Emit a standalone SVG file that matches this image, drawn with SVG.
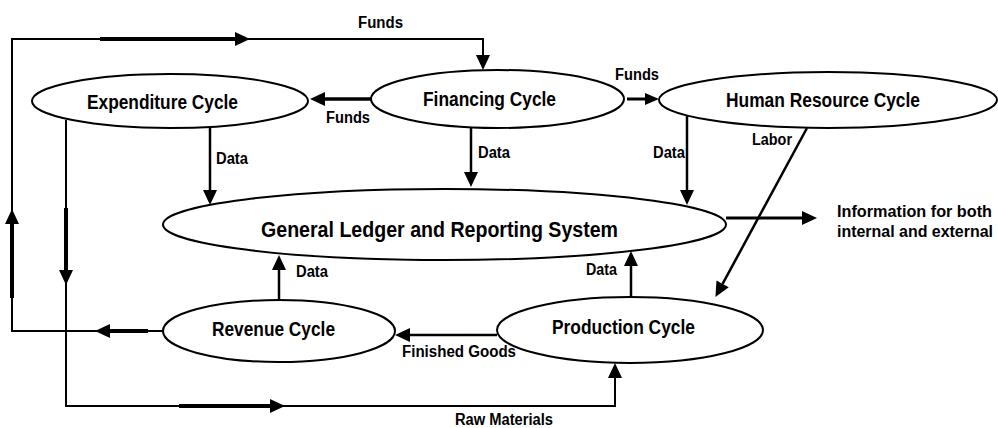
<svg xmlns="http://www.w3.org/2000/svg" width="998" height="428" viewBox="0 0 998 428">
<style>
.node ellipse{fill:#fff;stroke:#000;stroke-width:2}
text{font-family:"Liberation Sans",Arial,sans-serif;font-weight:bold;fill:#000}
.nt{font-size:20px}
.gt{font-size:22px}
.lb{font-size:16px}
.ln{fill:none;stroke:#000;stroke-width:2}
.th{fill:none;stroke:#000;stroke-width:4}
.ar{fill:none;stroke:#000;stroke-width:2.5}
.m{marker-end:url(#ah)}
.ms{marker-end:url(#ahs)}
</style>
<defs>
<marker id="ah" markerUnits="userSpaceOnUse" markerWidth="16" markerHeight="16" viewBox="0 -8 16 16" refX="0" refY="0" orient="auto" overflow="visible"><path d="M0,-7 L15,0 L0,7 z" fill="#000"/></marker>
<marker id="ahs" markerUnits="userSpaceOnUse" markerWidth="14" markerHeight="14" viewBox="0 -7 14 14" refX="0" refY="0" orient="auto" overflow="visible"><path d="M0,-6 L14,0 L0,6 z" fill="#000"/></marker>
</defs>
<rect width="998" height="428" fill="#fff"/>
<g id="connectors">
<path class="ln m" d="M163,331 H12 V39 H483 V55"/>
<path class="th m" d="M148,331 H110"/>
<path class="th m" d="M12,298 V224"/>
<path class="th m" d="M100,39 H235"/>
<path class="ln m" d="M66,120 V406 H615 V378"/>
<path class="th m" d="M66,208 V270"/>
<path class="th m" d="M179,406 H270"/>
<path class="th m" d="M371,99 H325" style="stroke-width:3.5"/>
<path class="ar ms" d="M627,99 H645" style="stroke-width:3"/>
<path class="ar m" d="M210,128 V190"/>
<path class="ar m" d="M471,128 V172"/>
<path class="ar m" d="M687,115 V190"/>
<path class="ar m" d="M279,300 V270"/>
<path class="ar m" d="M631,297 V266"/>
<path class="ar m" d="M726,218 H802" style="stroke-width:3"/>
<path class="ar m" d="M497,335 H410"/>
<path class="ar m" d="M807,128 L722.6,283.9"/>
<text class="lb" x="358" y="28" textLength="45" lengthAdjust="spacingAndGlyphs">Funds</text>
<text class="lb" x="326" y="123" textLength="44" lengthAdjust="spacingAndGlyphs">Funds</text>
<text class="lb" x="615" y="80" textLength="44" lengthAdjust="spacingAndGlyphs">Funds</text>
<text class="lb" x="216" y="164" textLength="32" lengthAdjust="spacingAndGlyphs">Data</text>
<text class="lb" x="478" y="158" textLength="32" lengthAdjust="spacingAndGlyphs">Data</text>
<text class="lb" x="653" y="158" textLength="32" lengthAdjust="spacingAndGlyphs">Data</text>
<text class="lb" x="296" y="277" textLength="32" lengthAdjust="spacingAndGlyphs">Data</text>
<text class="lb" x="586" y="275" textLength="31" lengthAdjust="spacingAndGlyphs">Data</text>
<text class="lb" x="752" y="145" textLength="40" lengthAdjust="spacingAndGlyphs">Labor</text>
<text class="lb" x="837" y="217" textLength="155" lengthAdjust="spacingAndGlyphs">Information for both</text>
<text class="lb" x="837" y="237" textLength="156" lengthAdjust="spacingAndGlyphs">internal and external</text>
<text class="lb" x="402" y="357" textLength="114" lengthAdjust="spacingAndGlyphs">Finished Goods</text>
<text class="lb" x="455" y="425" textLength="98" lengthAdjust="spacingAndGlyphs">Raw Materials</text>
</g>
<g id="expenditure" class="node"><ellipse cx="170" cy="101" rx="138" ry="27"/><text class="nt" x="87" y="109" textLength="151" lengthAdjust="spacingAndGlyphs">Expenditure Cycle</text></g>
<g id="financing" class="node"><ellipse cx="497.5" cy="99" rx="126.5" ry="29"/><text class="nt" x="423" y="106" textLength="133" lengthAdjust="spacingAndGlyphs">Financing Cycle</text></g>
<g id="hr" class="node"><ellipse cx="828" cy="100" rx="169" ry="28"/><text class="nt" x="726" y="107" textLength="194" lengthAdjust="spacingAndGlyphs">Human Resource Cycle</text></g>
<g id="gl" class="node"><ellipse cx="444.5" cy="224.5" rx="281.5" ry="35.5"/><text class="gt" x="261" y="237" textLength="357" lengthAdjust="spacingAndGlyphs">General Ledger and Reporting System</text></g>
<g id="revenue" class="node"><ellipse cx="279" cy="331" rx="116" ry="31"/><text class="nt" x="212" y="336" textLength="123" lengthAdjust="spacingAndGlyphs">Revenue Cycle</text></g>
<g id="production" class="node"><ellipse cx="630" cy="330" rx="133" ry="33"/><text class="nt" x="552" y="334" textLength="143" lengthAdjust="spacingAndGlyphs">Production Cycle</text></g>
</svg>
